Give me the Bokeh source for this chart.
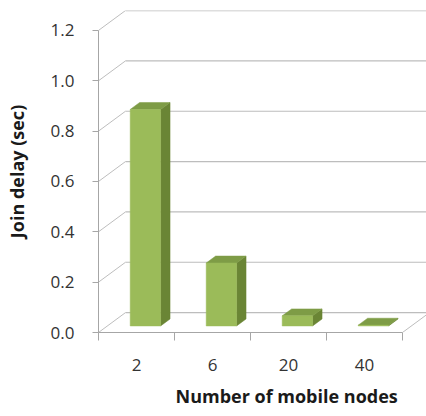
from bokeh.plotting import figure
from bokeh.models import Range1d, FixedTicker, Title, PrintfTickFormatter
from bokeh.embed import file_html
from bokeh.resources import INLINE

# ---- data ----
categories = ["2", "6", "20", "40"]
join_delay = [0.86, 0.25, 0.04, 0.003]
y_ticks = [0.0, 0.2, 0.4, 0.6, 0.8, 1.0, 1.2]
x_title = "Number of mobile nodes"
y_title = "Join delay (sec)"

# ---- 3D look parameters (data units) ----
DX, DY = 0.355, 0.079        # full depth offset of the back wall
F0, F1 = 0.33, 0.68          # bar front / back depth fractions
BAR_L, BAR_R = 0.30, 0.70    # bar extent inside its category slot

FRONT = "#9BBB59"
SIDE = "#6A8535"
TOP = "#7E9C46"
GRID = "#BDBDBD"
AXIS = "#A6A6A6"
TEXT = "#333333"
FONT = "Open Sans"

n = len(categories)
p = figure(width=426, height=416, output_backend="svg", toolbar_location=None,
           x_range=Range1d(0, 4.3158), y_range=Range1d(0, 1.2792),
           min_border_left=98, min_border_right=0, min_border_top=10,
           min_border_bottom=83)
p.outline_line_color = None
p.xgrid.visible = False
p.ygrid.visible = False
p.background_fill_color = "white"

# back wall gridlines + side wall diagonals
for t in y_ticks:
    p.line([0, DX], [t, t + DY], line_color=GRID, line_width=1)
    p.line([DX, 5.0], [t + DY, t + DY], line_color=GRID, line_width=1.2)
# floor right edge
p.line([n, n + DX], [0, DY], line_color=GRID, line_width=1)

# bars
for i, v in enumerate(join_delay):
    x0 = i + BAR_L + F0 * DX
    x1 = i + BAR_R + F0 * DX
    y0 = F0 * DY
    ddx = (F1 - F0) * DX
    ddy = (F1 - F0) * DY
    # side face
    p.patch([x1, x1 + ddx, x1 + ddx, x1], [y0, y0 + ddy, y0 + v + ddy, y0 + v],
            fill_color=SIDE, line_color=SIDE, line_width=0.5)
    # top face
    p.patch([x0, x1, x1 + ddx, x0 + ddx], [y0 + v, y0 + v, y0 + v + ddy, y0 + v + ddy],
            fill_color=TOP, line_color=TOP, line_width=0.5)
    # front face
    p.quad(left=x0, right=x1, bottom=y0, top=y0 + v,
           fill_color=FRONT, line_color=FRONT, line_width=0.5)

# y axis
ya = p.yaxis[0]
ya.bounds = (0, 1.2)
ya.ticker = FixedTicker(ticks=y_ticks)
ya.formatter = PrintfTickFormatter(format="%.1f")
ya.axis_line_color = AXIS
ya.major_tick_line_color = AXIS
ya.major_tick_out = 6
ya.major_tick_in = 0
ya.minor_tick_line_color = None
ya.major_label_standoff = 18
ya.major_label_text_font = FONT
ya.major_label_text_font_size = "17px"
ya.major_label_text_color = TEXT
ya.axis_label = y_title
ya.axis_label_text_font = FONT
ya.axis_label_text_font_style = "bold"
ya.axis_label_text_font_size = "18px"
ya.axis_label_text_color = "#1a1a1a"
ya.axis_label_standoff = 19

# x axis
xa = p.xaxis[0]
xa.bounds = (0, n)
xa.ticker = FixedTicker(ticks=[i + 0.5 for i in range(n)],
                        minor_ticks=list(range(n + 1)))
xa.major_label_overrides = {i + 0.5: c for i, c in enumerate(categories)}
xa.axis_line_color = AXIS
xa.major_tick_line_color = None
xa.minor_tick_line_color = AXIS
xa.minor_tick_out = 8
xa.minor_tick_in = 0
xa.major_label_standoff = 18
xa.major_label_text_font = FONT
xa.major_label_text_font_size = "17px"
xa.major_label_text_color = TEXT

# x-axis title, placed like the reference (offset to the right of centre)
p.add_layout(Title(text=x_title, text_font=FONT, text_font_style="bold",
                   text_font_size="18px", text_color="#1a1a1a",
                   align="left", offset=77, standoff=17), "below")

open("out.html", "w").write(file_html(p, INLINE))
